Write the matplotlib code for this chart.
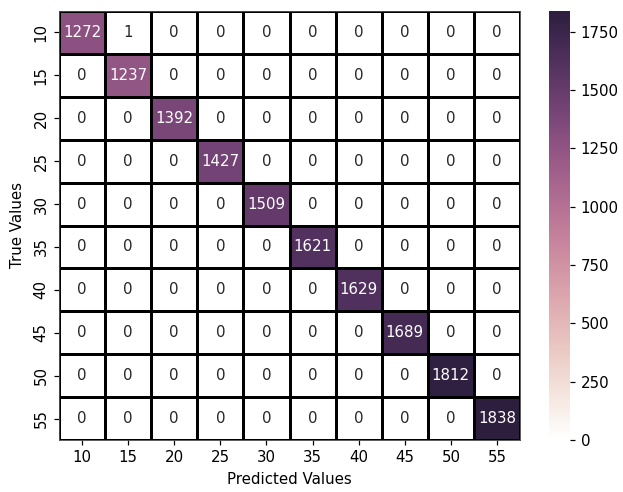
import numpy as np
import matplotlib
matplotlib.use('Agg')
import matplotlib.pyplot as plt
import seaborn as sns

labels = [10, 15, 20, 25, 30, 35, 40, 45, 50, 55]
diag_counts = [1272, 1237, 1392, 1427, 1509, 1621, 1629, 1689, 1812, 1838]
# off-diagonal entries that are not zero: (row, col, count)
off_diag = [(0, 1, 1)]

cm = np.diag(diag_counts)
for r, c, v in off_diag:
    cm[r, c] = v

dpi = 108
fig = plt.figure(figsize=(623 / dpi, 492 / dpi), dpi=dpi)
ax = fig.add_axes([59 / 623, 1 - 440 / 492, 461 / 623, 429 / 492])
cax = fig.add_axes([549 / 623, 1 - 440 / 492, 21 / 623, 429 / 492])

cmap = sns.cubehelix_palette(light=1, as_cmap=True)
sns.heatmap(cm, annot=True, fmt='d', cmap=cmap, linewidths=0.75, linecolor='black',
            xticklabels=labels, yticklabels=labels, ax=ax, cbar_ax=cax)
ax.set_xlabel('Predicted Values')
ax.set_ylabel('True Values', labelpad=6)
for sp in ax.spines.values():
    sp.set_visible(True)
    sp.set_linewidth(0.6)
    sp.set_color('0.3')

plt.savefig('out.png', dpi=dpi)
